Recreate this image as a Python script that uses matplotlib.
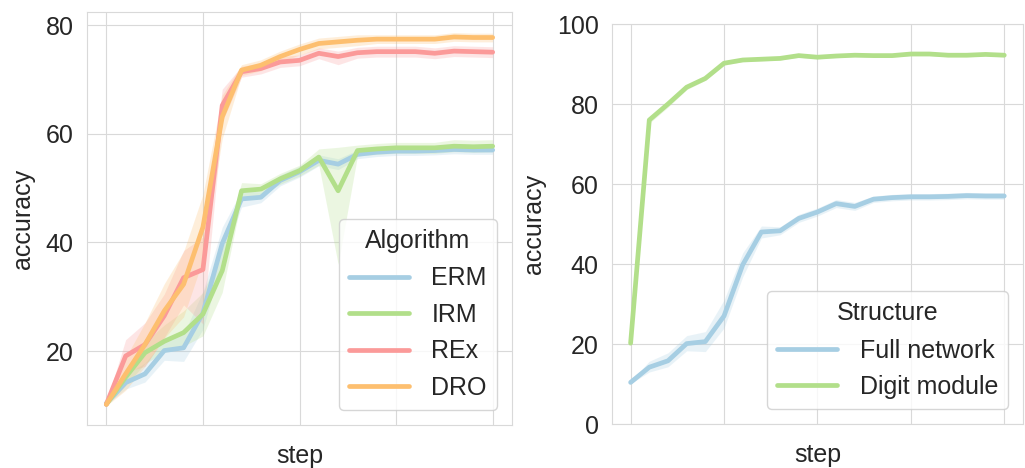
import matplotlib
matplotlib.use("Agg")
import matplotlib.pyplot as plt
import seaborn as sns
import numpy as np

# training steps (tick labels are hidden in the original)
steps = np.arange(21)

# left panel: mean accuracy per algorithm
erm = [10.4, 14.2, 15.8, 20.1, 20.6, 27.0, 39.8, 48.0, 48.3, 51.4, 53.0,
       55.1, 54.4, 56.2, 56.6, 56.8, 56.8, 56.9, 57.1, 57.0, 57.0]
irm = [10.2, 15.2, 19.7, 21.8, 23.4, 26.8, 34.8, 49.5, 49.8, 51.7, 53.2,
       55.7, 49.5, 56.9, 57.2, 57.4, 57.4, 57.4, 57.7, 57.6, 57.7]
rex = [10.2, 19.1, 21.2, 26.5, 33.5, 35.0, 65.2, 71.4, 72.0, 73.2, 73.5,
       74.8, 74.2, 74.9, 75.1, 75.1, 75.1, 74.8, 75.2, 75.1, 75.0]
dro = [10.2, 15.8, 21.2, 27.4, 32.3, 42.8, 63.1, 71.7, 72.6, 74.2, 75.5,
       76.6, 76.9, 77.2, 77.4, 77.4, 77.4, 77.4, 77.8, 77.7, 77.7]

# confidence band half-widths (below, above)
erm_lo = [0.3, 1.2, 1.5, 1.8, 2.5, 3.0, 3.0, 1.5, 1.0, 1.0, 1.0,
          1.0, 1.0, 0.8, 0.8, 0.8, 0.8, 0.8, 0.8, 0.8, 0.8]
erm_hi = [0.3, 1.5, 2.0, 2.0, 2.5, 4.0, 3.0, 1.5, 1.0, 1.0, 1.0,
          1.0, 1.0, 0.8, 0.8, 0.8, 0.8, 0.8, 0.8, 0.8, 0.8]
irm_lo = [0.3, 1.5, 2.0, 2.0, 2.5, 4.0, 4.0, 1.5, 1.0, 1.0, 1.0,
          1.5, 13.5, 1.0, 1.0, 1.0, 1.0, 1.0, 1.0, 1.0, 1.0]
irm_hi = [0.3, 1.5, 2.0, 3.0, 4.0, 4.0, 4.0, 1.5, 1.0, 1.0, 1.0,
          1.5, 8.0, 1.0, 1.0, 1.0, 1.0, 1.0, 1.2, 1.2, 1.2]
rex_lo = [0.3, 3.0, 4.0, 4.0, 5.0, 10.0, 3.0, 1.0, 1.0, 1.0, 1.0,
          1.0, 1.5, 1.0, 1.0, 1.0, 1.0, 1.0, 1.0, 1.0, 1.0]
rex_hi = [0.3, 3.0, 4.0, 4.0, 5.0, 6.0, 3.0, 1.0, 1.0, 1.0, 1.0,
          1.0, 1.0, 1.0, 1.0, 1.0, 1.0, 1.0, 1.0, 1.0, 1.0]
dro_lo = [0.3, 3.0, 4.0, 5.0, 6.0, 6.0, 4.0, 1.0, 1.0, 1.0, 1.0,
          1.0, 1.0, 1.0, 0.8, 0.8, 0.8, 0.8, 0.8, 0.8, 0.8]
dro_hi = [0.3, 3.0, 4.0, 5.0, 6.0, 6.0, 4.0, 1.0, 1.0, 1.0, 1.0,
          1.0, 1.0, 1.0, 0.8, 0.8, 0.8, 0.8, 0.8, 0.8, 0.8]

# right panel: full network vs digit module
digit = [20.2, 76.0, 80.0, 84.2, 86.4, 90.2, 91.0, 91.2, 91.4, 92.1, 91.7,
         92.0, 92.2, 92.1, 92.1, 92.5, 92.5, 92.2, 92.2, 92.4, 92.2]
digit_err = [0.3, 0.8, 0.8, 0.6, 0.5, 0.5, 0.4, 0.4, 0.4, 0.4, 0.4,
             0.4, 0.4, 0.4, 0.4, 0.4, 0.4, 0.4, 0.4, 0.4, 0.4]

algo_names = ["ERM", "IRM", "REx", "DRO"]
struct_names = ["Full network", "Digit module"]

blue, green, red, orange = "#a6cee3", "#b2df8a", "#fb9a99", "#fdbf6f"

sns.set_style("whitegrid", {"grid.color": ".85", "axes.edgecolor": ".85"})
plt.rcParams["font.family"] = ["Liberation Sans", "DejaVu Sans"]
plt.rcParams["text.color"] = "#262626"
plt.rcParams["xtick.color"] = "#262626"
plt.rcParams["ytick.color"] = "#262626"

fs = 18
fig = plt.figure(figsize=(10.25, 4.68), dpi=100)
ax1 = fig.add_axes([0.0849, 0.0919, 0.4146, 0.8825])
ax2 = fig.add_axes([0.597, 0.094, 0.401, 0.8547])


def band(ax, y, lo, hi, color, label):
    y = np.array(y)
    ax.fill_between(steps, y - np.array(lo), y + np.array(hi),
                    color=color, alpha=0.25, linewidth=0)
    ax.plot(steps, y, color=color, lw=3.4, label=label)


band(ax1, erm, erm_lo, erm_hi, blue, algo_names[0])
band(ax1, irm, irm_lo, irm_hi, green, algo_names[1])
band(ax1, rex, rex_lo, rex_hi, red, algo_names[2])
band(ax1, dro, dro_lo, dro_hi, orange, algo_names[3])

band(ax2, erm, erm_lo, erm_hi, blue, struct_names[0])
band(ax2, digit, digit_err, digit_err, green, struct_names[1])

ax1.set_ylim(6.4, 82.4)
ax1.set_yticks([20, 40, 60, 80])
ax2.set_ylim(0, 100)
ax2.set_yticks([0, 20, 40, 60, 80, 100])

for ax in (ax1, ax2):
    ax.set_xlim(-1, 21)
    ax.set_xticks([0, 5, 10, 15, 20])
    ax.set_xticklabels([])
    ax.tick_params(axis="y", labelsize=fs, pad=6)
    ax.set_xlabel("step", fontsize=fs, labelpad=7)
    ax.set_ylabel("accuracy", fontsize=fs, labelpad=8)
    for sp in ax.spines.values():
        sp.set_color("#d9d9d9")

leg1 = ax1.legend(title="Algorithm", loc="lower right", fontsize=fs,
                  title_fontsize=fs, handlelength=2.4, handletextpad=0.9,
                  borderaxespad=0.6)
leg2 = ax2.legend(title="Structure", loc="lower right", fontsize=fs,
                  title_fontsize=fs, handlelength=2.4, handletextpad=0.9,
                  borderaxespad=0.6)
for leg in (leg1, leg2):
    leg._legend_box.sep = 10

fig.savefig("out.png", dpi=100)
